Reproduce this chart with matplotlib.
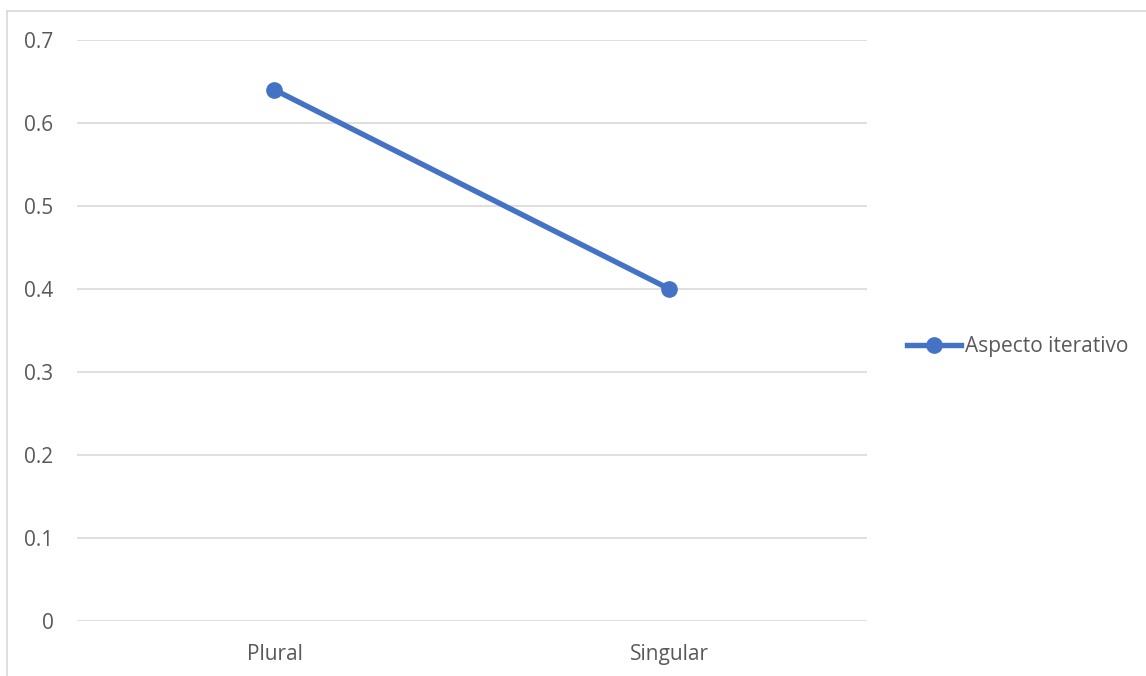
import matplotlib.pyplot as plt
from matplotlib.lines import Line2D

categories = ['Plural', 'Singular']
values = [0.64, 0.40]
series_name = 'Aspecto iterativo'
yticks = [0, 0.1, 0.2, 0.3, 0.4, 0.5, 0.6, 0.7]

plt.rcParams['font.family'] = ['Open Sans', 'DejaVu Sans']
text_color = '#595959'
line_color = '#4472C4'

fig = plt.figure(figsize=(11.46, 6.76), dpi=100)
ax = fig.add_axes([0.0672, 0.0814, 0.6893, 0.8594])

x = range(len(categories))
ax.plot(x, values, color=line_color, linewidth=3.9, marker='o',
        markersize=11, solid_capstyle='round', label=series_name, zorder=3)

ax.set_xlim(-0.5, len(categories) - 0.5)
ax.set_ylim(0, 0.7)
ax.set_xticks(list(x))
ax.set_xticklabels(categories)
ax.set_yticks(yticks)
ax.set_yticklabels([f'{v:g}' for v in yticks])
ax.grid(axis='y', color='#D9D9D9', linewidth=1.2)
ax.set_axisbelow(True)
for s in ax.spines.values():
    s.set_visible(False)
ax.tick_params(length=0, labelsize=15, labelcolor=text_color)
ax.tick_params(axis='y', pad=17)
ax.tick_params(axis='x', pad=16.5)

# legend to the right of the plot area
handle = Line2D([], [], color=line_color, linewidth=3.9, marker='o', markersize=11)
fig.legend([handle], [series_name], loc='center left',
           bbox_to_anchor=(0.7914, 0.4867), frameon=False, fontsize=15,
           labelcolor=text_color, handlelength=2.6, handletextpad=0.2,
           borderaxespad=0, borderpad=0)

# chart frame (left and top edges)
fig.add_artist(Line2D([7 / 1146, 7 / 1146], [0, 1 - 11 / 676],
                      transform=fig.transFigure, color='#D9D9D9', linewidth=1.2))
fig.add_artist(Line2D([7 / 1146, 1], [1 - 11 / 676, 1 - 11 / 676],
                      transform=fig.transFigure, color='#D9D9D9', linewidth=1.2))

fig.savefig('out.png', dpi=100)
